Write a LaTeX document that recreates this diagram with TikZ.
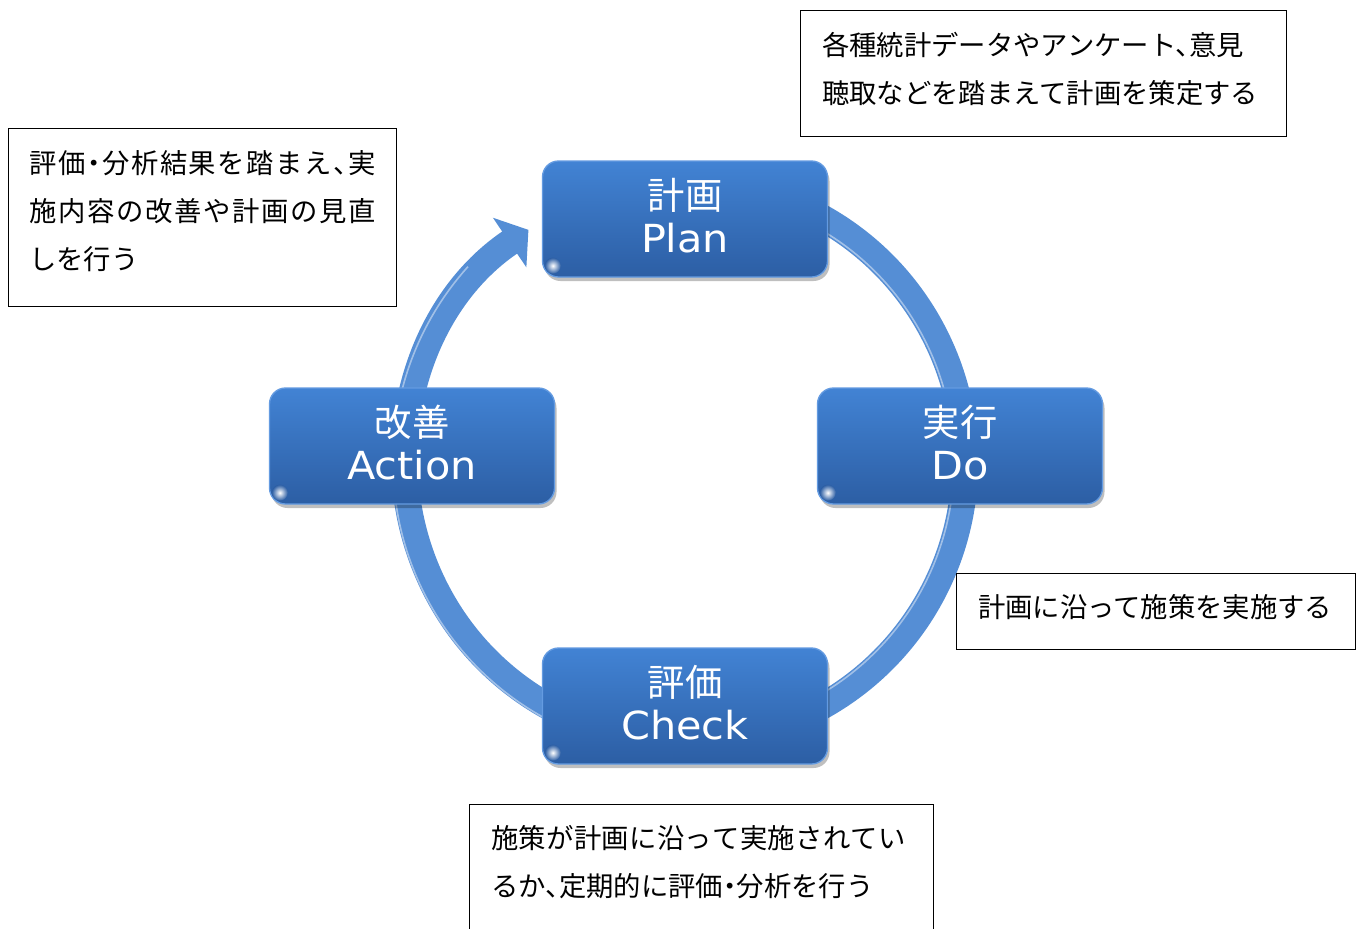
\documentclass[tikz,border=0pt]{standalone}
\usepackage{fontspec}
\setmainfont{Noto Sans CJK JP}
\newfontfamily\bodyfont[CharacterWidth=AlternateHalf]{Noto Sans CJK JP}
\newfontfamily\latinfont[FakeStretch=1.07]{DejaVu Sans}
\usetikzlibrary{arrows.meta,shadows,calc}
\definecolor{ringblue}{RGB}{85,142,213}
\definecolor{boxtop}{RGB}{66,131,212}
\definecolor{boxbot}{RGB}{44,94,164}
\definecolor{boxedge}{RGB}{100,155,225}
% spread the characters of a line over a given width (justified line)
\def\spreadtail#1{\ifx#1\relax\else\hskip0pt plus 1fil#1\expandafter\spreadtail\fi}
\def\spreadhead#1{#1\spreadtail}
\newcommand\justline[2]{\makebox[#1][s]{\spreadhead#2\relax}}
\begin{document}
\begin{tikzpicture}[x=0.75pt,y=-0.75pt,
  pdca/.style={rectangle, rounded corners=12pt, minimum width=213.75pt, minimum height=87pt,
    top color=boxtop, bottom color=boxbot, draw=boxedge, line width=1pt, inner sep=0pt,
    drop shadow={shadow xshift=1.5pt, shadow yshift=-3pt, opacity=0.25, fill=black}},
  jpline/.style={font=\fontsize{28}{32}\selectfont, text=white, inner sep=0pt, anchor=base},
  enline/.style={font=\latinfont\fontsize{29}{34}\selectfont, text=white, inner sep=0pt, anchor=base},
  tbox/.style={draw=black, line width=0.75pt, fill=white, inner sep=0pt},
  bodyline/.style={font=\bodyfont\fontsize{20.5}{30}\selectfont, text=black, inner sep=0pt, anchor=base west},
  ring/.style={draw=ringblue, line width=20pt, -{Triangle[width=44pt,length=17pt]}},
  ringlight/.style={draw=white, opacity=0.45, line width=1.2pt},
  glint/.style={inner color=white, outer color=boxbot}]
\useasboundingbox (0,0) rectangle (1359,928);
\fill[white] (0,0) rectangle (1359,928);
\coordinate (c) at (685,462);
% cycle ring
\draw[ring] ($(c)+(-117:280)$) arc[start angle=-117,end angle=236,radius=280];
\draw[ringlight] ($(c)+(-70:269)$) arc[start angle=-70,end angle=70,radius=269];
\draw[ringlight] ($(c)+(110:292)$) arc[start angle=110,end angle=222,radius=292];
% PDCA boxes
\node[pdca] (plan) at (685,219) {};
\node[pdca] (do) at (960,446) {};
\node[pdca] (check) at (685,706) {};
\node[pdca] (act) at (412,446) {};
\foreach \b in {plan,do,check,act}{
  \shade[glint] ($(\b.south west)+(11,-12)$) circle[radius=8];
}
\node[jpline] (planjp) at ($(plan.center)+(0,-10)$) {計画};
\node[enline] (planen) at ($(plan.center)+(0,33)$) {Plan};
\node[jpline] (dojp) at ($(do.center)+(0,-10)$) {実行};
\node[enline] (doen) at ($(do.center)+(0,33)$) {Do};
\node[jpline] (checkjp) at ($(check.center)+(0,-10)$) {評価};
\node[enline] (checken) at ($(check.center)+(0,33)$) {Check};
\node[jpline] (actjp) at ($(act.center)+(0,-10)$) {改善};
\node[enline] (acten) at ($(act.center)+(0,33)$) {Action};
% note boxes
\node[tbox, minimum width=364.5pt, minimum height=94.5pt] (note1) at (1043,73) {};
\node[bodyline] (n1a) at (822,55) {各種統計データやアンケート、意見};
\node[bodyline] (n1b) at (822,103) {聴取などを踏まえて計画を策定する};
\node[tbox, minimum width=291pt, minimum height=133.5pt] (note2) at (202,217) {};
\node[bodyline] (n2a) at (29,173) {\justline{260pt}{評価・分析結果を踏まえ、実}};
\node[bodyline] (n2b) at (29,221) {\justline{260pt}{施内容の改善や計画の見直}};
\node[bodyline] (n2c) at (29,269) {しを行う};
\node[tbox, minimum width=299.25pt, minimum height=57pt] (note3) at (1155.5,611) {};
\node[bodyline] (n3a) at (978,617) {計画に沿って施策を実施する};
\node[tbox, minimum width=348pt, minimum height=112.5pt] (note4) at (701,879) {};
\node[bodyline] (n4a) at (491,848) {\justline{311pt}{施策が計画に沿って実施されてい}};
\node[bodyline] (n4b) at (491,896) {るか、定期的に評価・分析を行う};
\end{tikzpicture}
\end{document}
